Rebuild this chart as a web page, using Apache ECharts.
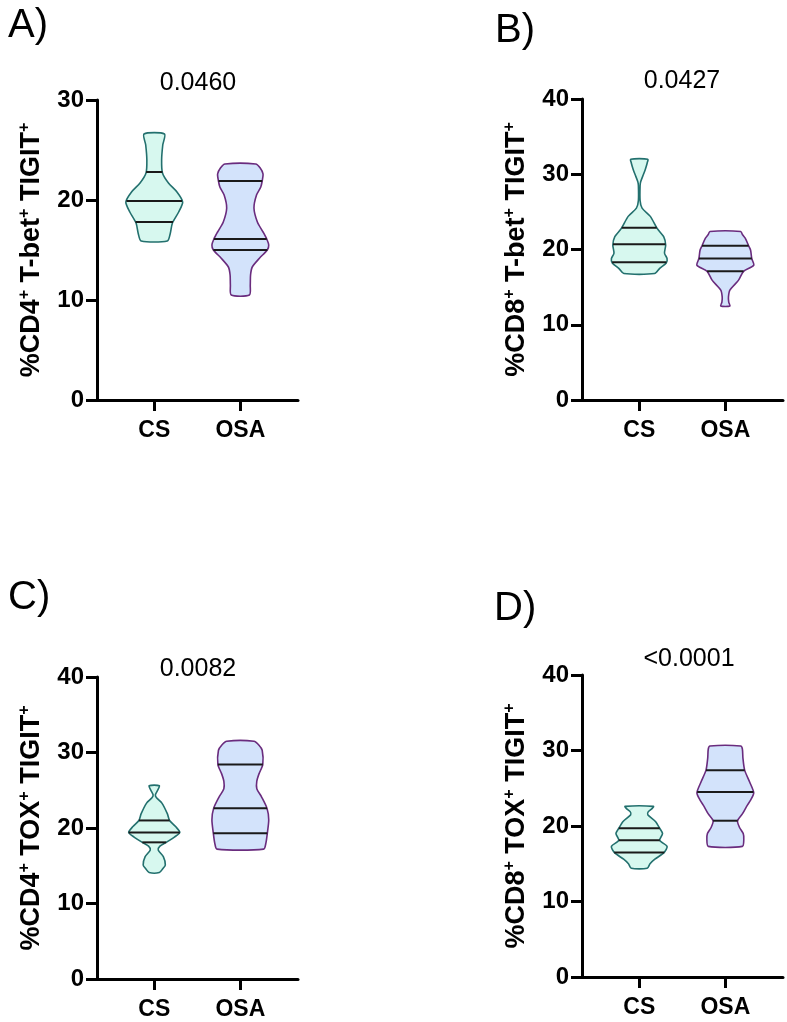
<!DOCTYPE html>
<html>
<head>
<meta charset="utf-8">
<title>violin</title>
<script src="https://cdn.jsdelivr.net/npm/echarts@6/dist/echarts.min.js"></script>
<style>
  html, body { margin: 0; padding: 0; background: #fff; }
  #chart { width: 787px; height: 1022px; }
</style>
</head>
<body>
<div id="chart"></div>
<script>
// 数据 —— 从图上读出来的
const categories = ['CS', 'OSA']
const panelLetters = ['A)', 'B)', 'C)', 'D)']
const pValues = ['0.0460', '0.0427', '0.0082', '<0.0001']
const yMarkers = [['CD4', 'T-bet'], ['CD8', 'T-bet'], ['CD4', 'TOX'], ['CD8', 'TOX']]
const yMax = [30, 40, 40, 40]

// [min, q1, median, q3, max]
const statsA = [[15.9, 17.8, 19.9, 22.8, 26.6], [10.5, 15.0, 16.1, 21.9, 23.6]]
const statsB = [[16.8, 18.3, 20.7, 22.9, 32.0], [12.5, 17.1, 18.8, 20.5, 22.4]]
const statsC = [[14.1, 18.1, 19.4, 21.0, 25.6], [17.2, 19.3, 22.6, 28.4, 31.5]]
const statsD = [[14.4, 16.5, 18.1, 19.7, 22.6], [17.3, 20.7, 24.5, 27.4, 30.6]]

// 小提琴轮廓 [数值, 相对密度 0-1]
const csShapeA = [[15.9, 0.46], [16.6, 0.56], [17.7, 0.64], [18.8, 0.86], [19.8, 1.0], [20.8, 0.8], [21.7, 0.5], [22.7, 0.29], [24.0, 0.26], [25.5, 0.3], [26.6, 0.36]]
const osaShapeA = [[10.5, 0.32], [11.5, 0.35], [12.5, 0.36], [13.3, 0.42], [14.2, 0.68], [15.0, 0.95], [15.5, 1.0], [16.1, 0.93], [16.8, 0.8], [17.8, 0.6], [19.2, 0.48], [20.5, 0.57], [21.3, 0.72], [21.9, 0.77], [22.6, 0.8], [23.2, 0.7], [23.6, 0.54]]
const csShapeB = [[16.8, 0.54], [17.5, 0.72], [18.2, 0.95], [18.8, 0.98], [19.5, 0.89], [20.6, 0.93], [21.7, 0.86], [22.8, 0.63], [24.4, 0.39], [25.5, 0.1], [26.5, 0.03], [28.5, 0.03], [29.0, 0.05], [30.0, 0.15], [30.6, 0.21], [31.5, 0.28], [32.0, 0.3]]
const osaShapeB = [[12.5, 0.16], [13.0, 0.12], [13.7, 0.11], [14.6, 0.16], [15.9, 0.46], [17.1, 0.64], [17.9, 1.0], [18.8, 0.93], [19.9, 0.89], [20.5, 0.82], [21.5, 0.7], [22.0, 0.6], [22.4, 0.54]]
const csShapeC = [[14.1, 0.18], [14.6, 0.3], [15.1, 0.39], [16.2, 0.32], [17.1, 0.14], [17.6, 0.2], [18.1, 0.42], [18.8, 0.71], [19.4, 0.9], [20.2, 0.75], [21.0, 0.54], [21.9, 0.46], [23.3, 0.27], [24.0, 0.08], [24.4, 0.04], [25.0, 0.12], [25.6, 0.18]]
const osaShapeC = [[17.2, 0.82], [18.0, 0.9], [19.3, 0.95], [21.1, 1.0], [22.6, 0.94], [24.1, 0.75], [25.2, 0.58], [26.2, 0.58], [27.2, 0.66], [28.4, 0.79], [30.3, 0.77], [31.0, 0.65], [31.5, 0.48]]
const csShapeD = [[14.4, 0.28], [15.0, 0.38], [15.6, 0.55], [16.5, 0.88], [17.3, 0.98], [18.1, 0.72], [19.0, 0.82], [19.7, 0.72], [20.6, 0.57], [21.5, 0.3], [21.9, 0.32], [22.3, 0.45], [22.6, 0.5]]
const osaShapeD = [[17.3, 0.6], [18.2, 0.65], [19.0, 0.63], [19.8, 0.5], [20.7, 0.43], [21.6, 0.6], [22.6, 0.75], [23.5, 0.9], [24.4, 1.0], [25.8, 0.86], [27.4, 0.68], [29.0, 0.62], [30.2, 0.6], [30.6, 0.54]]

const panelStats = [statsA, statsB, statsC, statsD]
const panelShapes = [[csShapeA, osaShapeA], [csShapeB, osaShapeB], [csShapeC, osaShapeC], [csShapeD, osaShapeD]]

const FONT = 'Liberation Sans, Arial, sans-serif'
const fills = ['#d7f8ef', '#d3e3fb']
const strokes = ['#23706e', '#6a2c7e']
const halfWidth = 0.33 // 小提琴最大半宽 (x轴单位)

// 各面板位置
const grids = [
  { left: 97, top: 100, width: 201, height: 300 },
  { left: 582, top: 99, width: 201, height: 301 },
  { left: 97, top: 677, width: 201, height: 302 },
  { left: 582, top: 675, width: 201, height: 302 }
]
const titlePos = [[193, 78], [677, 76], [193, 664], [684, 654]]
const letterPos = [[3, 21], [490, 26], [3, 593], [489, 604]]

function densityAt(shape, v) {
  for (let i = 1; i < shape.length; i++) {
    if (v <= shape[i][0]) {
      const a = shape[i - 1], b = shape[i]
      const t = (v - a[0]) / (b[0] - a[0])
      return a[1] + (b[1] - a[1]) * t
    }
  }
  return shape[shape.length - 1][1]
}

function violin(gridIndex, groupIndex) {
  const shape = panelShapes[gridIndex][groupIndex]
  const stats = panelStats[gridIndex][groupIndex]
  return {
    type: 'custom',
    xAxisIndex: gridIndex,
    yAxisIndex: gridIndex,
    silent: true,
    data: [[groupIndex + 1, stats[2]]],
    renderItem(params, api) {
      const x = api.value(0)
      const right = shape.map(p => api.coord([x + p[1] * halfWidth, p[0]]))
      const left = shape.slice().reverse().map(p => api.coord([x - p[1] * halfWidth, p[0]]))
      // 四分位线
      const lines = stats.slice(1, 4).map(v => {
        const w = densityAt(shape, v) * halfWidth
        const a = api.coord([x - w, v])
        const b = api.coord([x + w, v])
        return {
          type: 'line',
          shape: { x1: a[0], y1: a[1], x2: b[0], y2: b[1] },
          style: { stroke: '#1a1a1a', lineWidth: 2 }
        }
      })
      return {
        type: 'group',
        children: [{
          type: 'polygon',
          shape: { points: right.concat(left), smooth: 0.25 },
          style: { fill: fills[groupIndex], stroke: strokes[groupIndex], lineWidth: 1.6 }
        }].concat(lines)
      }
    }
  }
}

const option = {
  backgroundColor: '#fff',
  animation: false,
  title: grids.map((g, i) => ({
    text: pValues[i],
    left: titlePos[i][0],
    top: titlePos[i][1],
    textAlign: 'center',
    textVerticalAlign: 'middle',
    textStyle: { fontFamily: FONT, fontSize: 25, fontWeight: 'normal', color: '#000' }
  })).concat(grids.map((g, i) => ({
    text: panelLetters[i],
    left: letterPos[i][0],
    top: letterPos[i][1],
    textAlign: 'left',
    textVerticalAlign: 'middle',
    textStyle: { fontFamily: FONT, fontSize: 40, fontWeight: 'normal', color: '#000' }
  }))),
  grid: grids,
  xAxis: grids.map((g, i) => ({
    type: 'value',
    gridIndex: i,
    min: 0.335,
    max: 2.67,
    axisLine: { onZero: false, lineStyle: { color: '#000', width: 3 } },
    axisTick: { customValues: [1, 2], length: 11, lineStyle: { color: '#000', width: 3 } },
    axisLabel: {
      customValues: [1, 2],
      formatter: v => categories[v - 1],
      margin: 19,
      fontFamily: FONT, fontSize: 23, fontWeight: 'bold', color: '#000'
    },
    splitLine: { show: false }
  })),
  yAxis: grids.map((g, i) => ({
    type: 'value',
    gridIndex: i,
    min: 0,
    max: yMax[i],
    interval: 10,
    name: '{n|%' + yMarkers[i][0] + '}{s|+}{n| ' + yMarkers[i][1] + '}{s|+}{n| TIGIT}{s|+}',
    nameLocation: 'middle',
    nameGap: 50,
    nameTextStyle: {
      rich: {
        n: { fontFamily: FONT, fontSize: 27, fontWeight: 'bold', color: '#000', lineHeight: 30 },
        s: { fontFamily: FONT, fontSize: 16, fontWeight: 'bold', color: '#000', lineHeight: 16, verticalAlign: 'top' }
      }
    },
    axisLine: { show: true, lineStyle: { color: '#000', width: 3 } },
    axisTick: { show: true, length: 11, lineStyle: { color: '#000', width: 3 } },
    axisLabel: { margin: 13, fontFamily: FONT, fontSize: 24, fontWeight: 'bold', color: '#000' },
    splitLine: { show: false }
  })),
  series: [0, 1, 2, 3].flatMap(i => [violin(i, 0), violin(i, 1)])
}

const chart = echarts.init(document.getElementById('chart'))
chart.setOption(option)
</script>
</body>
</html>
